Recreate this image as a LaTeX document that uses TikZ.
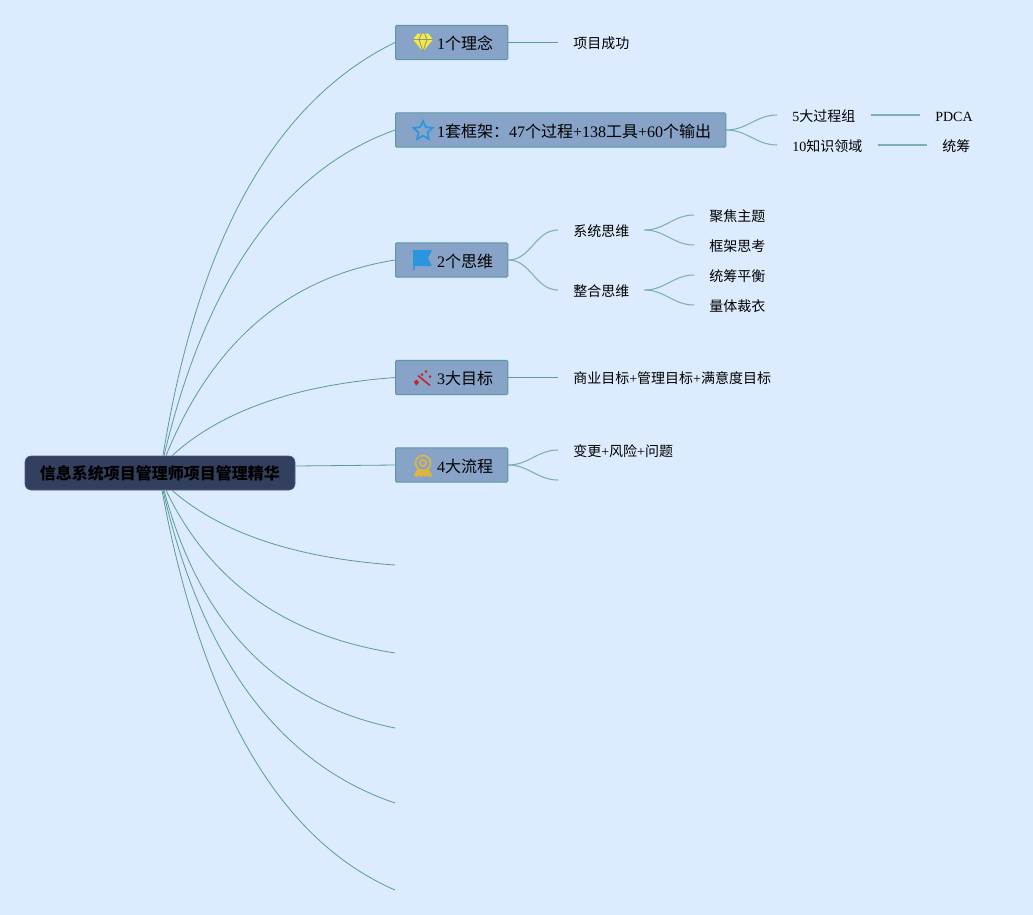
\documentclass[tikz,border=0pt]{standalone}
\usepackage{fontspec}
\setmainfont{Liberation Serif}
\newfontfamily\cjk{Noto Sans CJK SC}
\usetikzlibrary{shapes.geometric,positioning,calc}
\definecolor{pagebg}{HTML}{DCEBFD}
\definecolor{linkcol}{HTML}{5A9A9E}
\definecolor{softcol}{HTML}{7DB0B4}
\definecolor{topicbg}{HTML}{88A3C8}
\definecolor{rootbg}{HTML}{333F5E}
\definecolor{goldcol}{HTML}{DDB63F}
\definecolor{skycol}{HTML}{2A96DE}
\definecolor{redcol}{HTML}{C4262E}
\definecolor{gemcol}{HTML}{F2E84A}
\newcommand{\iconsp}{\hspace*{20.25pt}}
\begin{document}
\begin{tikzpicture}[
		x=0.75pt, y=-0.75pt,
		rootbox/.style={draw=rootbg!85!white, rounded corners=4.5pt, fill=rootbg,
			minimum width=202.5pt, minimum height=25.5pt, inner sep=0pt,
			font=\fontsize{12pt}{14pt}\selectfont\bfseries},
		topic/.style={draw=linkcol, line width=0.75pt, rounded corners=1pt, fill=topicbg, anchor=west,
			minimum height=25.8pt, inner xsep=11pt, inner ysep=0pt,
			text height=11.5pt, text depth=1pt,
			font=\fontsize{12pt}{14pt}\selectfont},
		leaf/.style={anchor=west, inner xsep=11.25pt, inner ysep=2pt,
			text height=10.5pt, text depth=1pt,
			font=\fontsize{10.5pt}{13pt}\selectfont},
		link/.style={draw=linkcol, line width=0.6pt},
		branch/.style={draw=softcol, line width=0.8pt},
		curve/.style={branch, out=0, in=180},
		gem/.pic={
			\fill[gemcol] (-10,-3) -- (-5.5,-9) -- (5.5,-9) -- (10,-3) -- (0,9) -- cycle;
			\draw[topicbg!60!gemcol!80!black, line width=0.6pt] (-10,-3) -- (10,-3) (-4,-3) -- (0,9) -- (4,-3) (-4,-3) -- (-1.5,-9) (4,-3) -- (1.5,-9);
		},
		flagicon/.pic={
			\fill[skycol] (-10,-10) -- (9,-10) -- (5,-2) -- (9,6) -- (-8.5,6) -- (-8.5,10) -- (-10,10) -- cycle;
		},
		wand/.pic={
			\draw[redcol, line width=1.2pt] (-5,-2) -- (7,8);
			\fill[redcol] (-9,4) -- (-6,2) -- (-4,5) -- (-7,8) -- cycle;
			\foreach \px/\py in {3/-6, 7/-1, -1/-3} \fill[redcol] (\px,\py) circle (1.5);
		},
		medal/.pic={
			\fill[goldcol] (-5,3) -- (-9,10) -- (-7,12) -- (-4,10.5) -- (-1,12) -- (0,9) -- (1,12) -- (4,10.5) -- (7,12) -- (9,10) -- (5,3) -- cycle;
			\draw[goldcol, line width=1.3pt, fill=topicbg] (0,-2) circle (7.5);
			\draw[goldcol, line width=1.2pt] (0,-2) circle (3.2);
		}
		]
		\useasboundingbox (0,0) rectangle (1033,915);
		\fill[pagebg] (0,0) rectangle (1033,915);
		
		% Centre and the five filled topics
		\node[rootbox] (root) at (160,473) {\cjk 信息系统项目管理师项目管理精华};
		\node[topic] (idea)  at (395,42.5)  {\iconsp 1{\cjk 个理念}};
		\node[topic] (frame) at (395,130) {\iconsp 1{\cjk 套框架：}47{\cjk 个过程}+138{\cjk 工具}+60{\cjk 个输出}};
		\node[topic] (think) at (395,260) {\iconsp 2{\cjk 个思维}};
		\node[topic] (goal)  at (395,377.5) {\iconsp 3{\cjk 大目标}};
		\node[topic] (flow)  at (395,465) {\iconsp 4{\cjk 大流程}};
		
		% Icons
		\pic at ($(idea.west)+(28,0)$) {gem};
		\node[star, star points=5, star point ratio=2.1, draw=skycol, line width=1.3pt,
			inner sep=0pt, minimum size=15pt] (staricon) at ($(frame.west)+(28,1)$) {};
		\pic at ($(think.west)+(28,0)$) {flagicon};
		\pic at ($(goal.west)+(28,0)$) {wand};
		\pic at ($(flow.west)+(28,0)$) {medal};
		
		% Leaves
		\node[leaf] (success) at (558,42.5)  {\cjk 项目成功};
		\node[leaf] (groups)  at (777,115) {5{\cjk 大过程组}};
		\node[leaf] (areas)   at (777,145) {10{\cjk 知识领域}};
		\node[leaf] (pdca)    at (920,115) {PDCA};
		\node[leaf] (coord)   at (927,145) {\cjk 统筹};
		\node[leaf] (sys)     at (558,230) {\cjk 系统思维};
		\node[leaf] (integ)   at (558,290) {\cjk 整合思维};
		\node[leaf] (focus)   at (694,215) {\cjk 聚焦主题};
		\node[leaf] (struct)  at (694,245) {\cjk 框架思考};
		\node[leaf] (balance) at (694,275) {\cjk 统筹平衡};
		\node[leaf] (tailor)  at (694,305) {\cjk 量体裁衣};
		\node[leaf] (aims)    at (558,377.5) {{\cjk 商业目标}+{\cjk 管理目标}+{\cjk 满意度目标}};
		\node[leaf] (change)  at (558,450) {{\cjk 变更}+{\cjk 风险}+{\cjk 问题}};
		
		% Loose ends
		\coordinate (flowend) at (558,480);
		\coordinate (endA) at (395,565);
		\coordinate (endB) at (395,653);
		\coordinate (endC) at (395,728);
		\coordinate (endD) at (395,803);
		\coordinate (endE) at (395,890);
		
		% Links from the centre
		\draw[link] ($(root.north)+(3,0)$) .. controls (198,239) and (275,101) .. (idea.west);
		\draw[link] ($(root.north)+(4,0)$) .. controls (206,279) and (283,170) .. (frame.west);
		\draw[link] ($(root.north)+(6,0)$) .. controls (212,342) and (288,277) .. (think.west);
		\draw[link] ($(root.north)+(12,0)$) .. controls (221,411) and (295,385) .. (goal.west);
		\draw[link] ($(root.east)+(0,-7)$) -- (flow.west);
		\draw[link] ($(root.south)+(12,0)$) .. controls (221,533) and (295,558) .. (endA);
		\draw[link] ($(root.south)+(6,0)$) .. controls (210,582) and (286,636) .. (endB);
		\draw[link] ($(root.south)+(4,0)$) .. controls (200,625) and (277,704) .. (endC);
		\draw[link] ($(root.south)+(3,0)$) .. controls (202,660) and (280,764) .. (endD);
		\draw[link] ($(root.south)+(2,0)$) .. controls (202,707) and (280,840) .. (endE);
		
		% Links to the leaves
		\draw[link] (idea.east) -- (success.west);
		\draw[curve] (frame.east) to (groups.west);
		\draw[curve] (frame.east) to (areas.west);
		\draw[branch] (groups.east) -- (pdca.west);
		\draw[branch] (areas.east) -- (coord.west);
		\draw[curve] (think.east) to (sys.west);
		\draw[curve] (think.east) to (integ.west);
		\draw[curve] (sys.east) to (focus.west);
		\draw[curve] (sys.east) to (struct.west);
		\draw[curve] (integ.east) to (balance.west);
		\draw[curve] (integ.east) to (tailor.west);
		\draw[link] (goal.east) -- (aims.west);
		\draw[curve] (flow.east) to (change.west);
		\draw[curve] (flow.east) to (flowend);
	\end{tikzpicture}
\end{document}
